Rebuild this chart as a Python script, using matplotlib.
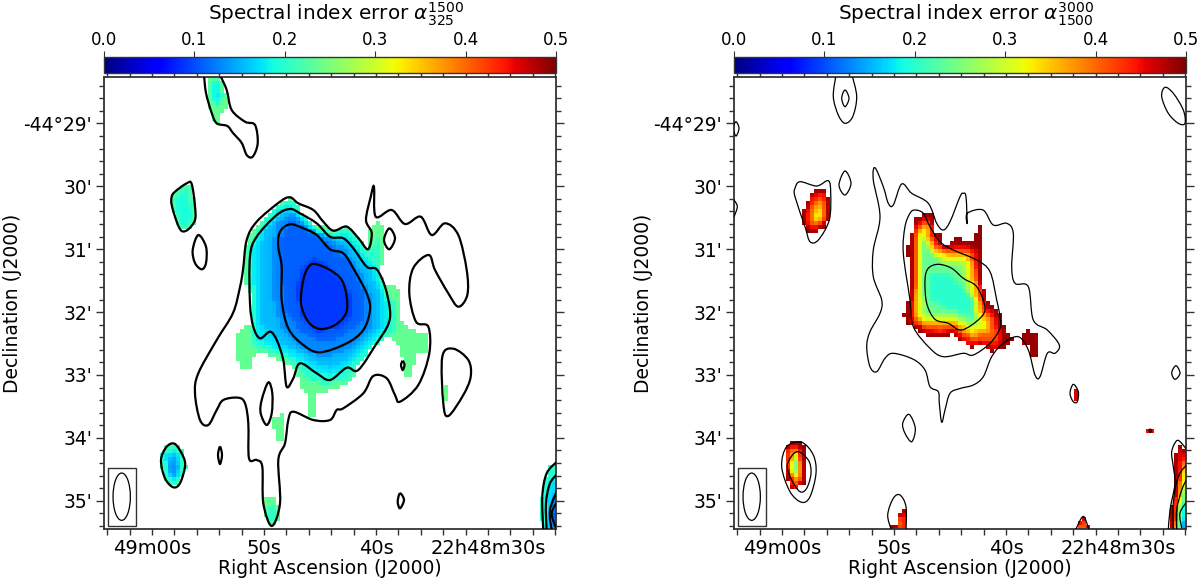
import numpy as np
import matplotlib
matplotlib.use("Agg")
import matplotlib.pyplot as plt
from matplotlib.path import Path
from matplotlib.patches import PathPatch, Rectangle, Ellipse

# everything below is in map pixels of the reference frame (1 map pixel = 1 px of picture)
# left panel covers x 104-556, right panel x 734-1186, both y 77-529

ra_ticks = [60, 50, 40, 30]
ra_labels = ["49m00s", "50s", "40s", "22h48m30s"]
dec_ticks = [29, 30, 31, 32, 33, 34, 35]
dec_labels = ["-44°29'", "30'", "31'", "32'", "33'", "34'", "35'"]
cbar_ticks = [0.0, 0.1, 0.2, 0.3, 0.4, 0.5]

# ---- left panel contours (alpha 325-1500)
left_tail = [(204,75),(206,93),(211.7,113),(216.7,123.3),(227.3,126),(233,133),(241.7,143),(246.7,155),(252.7,156.7),(257.7,143.3),(255,125),(245,121.7),(231.7,110),(226.7,90),(220,75)]
left_blob_a = [(171.7,196.7),(175,191.7),(186.7,183.3),(191.7,184),(195,206.7),(195,220),(188.3,229.3),(181.7,231),(176.7,221.7),(171.7,205)]
left_oval_a = [(198.3,235),(206,246.7),(206,263),(201.7,269.3),(195,263),(192.7,250)]
left_blob_b = [(161,460),(166.7,446.7),(175,444),(183.3,456.7),(185,466.7),(180,483.3),(173.3,487.3),(165,478.3)]
left_tiny_a = [(220,446.7),(222,455),(220,464),(218,455)]
left_hole = [(268.3,382.3),(272.3,393.3),(271.7,413.3),(266.7,425),(260.7,413.3),(261.7,400)]
left_outer = [(216.7,340),(233,313),(240,287),(243,270),(246.7,240),(256.7,221.7),(280,201.7),(290,197.3),(298.3,203.3),(313.3,210),(323.3,221.7),(333.3,230.7),(346.7,226.7),(358.3,238),(368,249.3),(371.7,233),(366,220),(370.7,197),(374,186.7),(375.7,216.7),(391.7,210),(405,224),(420.7,216.7),(431.7,235),(445,223.3),(458.3,235),(466.7,270),(467.3,295),(458.3,306.7),(448.3,293.3),(435,270),(428.7,255),(413.3,268),(409.3,293.3),(416,321.7),(428.3,326.7),(429.3,353.3),(418.3,385),(400,401.7),(395,395),(386.7,378.3),(373.3,376),(363.3,393.3),(343.3,408.3),(336.7,410),(330,420),(313.3,420),(293.3,411.7),(288.3,420),(285,443.3),(278.3,460),(280,503.3),(271.7,526),(263.3,503.3),(262.3,466.7),(256.7,460),(249,458.3),(248.3,423.3),(245,403.3),(238.3,397.7),(223.3,400),(216.7,410),(208.3,425),(200,420),(195,393.3),(198.3,373.3)]
left_second = [(290,209),(300,213.3),(316.7,223.3),(330,236.7),(343.3,238.3),(353.3,248.3),(366.7,266.7),(376.7,269.3),(385,286.7),(390,310),(388,325),(376.7,343.3),(358.3,370),(346.7,367.7),(330,380),(316.7,373.3),(300,363.3),(293.3,378.3),(286.7,386.7),(283.3,360),(276.7,340),(270,331.7),(260,338.3),(253.3,326.7),(250,303.3),(250,256.7),(256.7,236.7),(276.7,215)]
left_third = [(290,224.3),(303.3,228.3),(316.7,235),(330,249.3),(343.3,253.3),(353.3,268.3),(366.7,293.3),(370,310),(363.3,330),(346.7,343.3),(320,352.3),(303.3,345),(288.3,328.3),(281.7,300),(281.7,266.7),(278.3,246.7),(280,231.7)]
left_inner = [(315,264),(330,270),(341.7,280),(346.7,296.7),(346,313.3),(335,325),(320,329),(308.3,321.7),(301,303.3),(303.3,280),(308.3,267.3)]
left_oval_b = [(389.3,228.3),(395,238.3),(389.3,249.3),(384,240)]
left_oval_c = [(453.3,348.7),(468.3,360),(470.7,376.7),(463.3,395),(448.3,416),(443.3,403.3),(442.3,356.7)]
left_tiny_b = [(400,493.3),(404,500),(400,508.3),(397.7,501.7)]
left_tiny_c = [(402.7,361),(404.5,365),(402.7,370),(401,365)]
left_closed = [left_blob_a, left_oval_a, left_blob_b, left_tiny_a, left_hole, left_outer, left_second,
               left_third, left_inner, left_oval_b, left_oval_c, left_tiny_b, left_tiny_c]
left_open = [left_tail,
             [(543.3,531),(542.3,496.7),(546.7,473.3),(558,460.7)],
             [(546.7,531),(546,503.3),(550,483.3),(558,473.3)],
             [(551.7,531),(550,510),(558,488.3)],
             [(556,528),(551.7,513.3),(558,500)]]

# ---- left panel error map, nested regions (value, outline)
left_main = [
    (0.235, [(290,197),(300,206.7),(303.3,216.7),(316.7,226.7),(321.7,223.3),(330,228),(346.7,226.7),(358.3,236.7),(368,250),(370,228),(376.7,220),(383.3,225),(383.3,260),(380,270),(385,283),(396.7,286.7),(401.7,293.3),(401.7,320),(410,330),(426.7,333.3),(430,343.3),(426.7,351.7),(416,351.7),(415,363.3),(410,376.7),(406,377),(402.7,360),(398.3,353.3),(398,345),(393.3,338.3),(385,336),(378,343.3),(365,353),(358,363),(353.3,380),(346.7,385),(330,390),(316.7,395),(316.7,418.3),(310,418.3),(310,393.3),(300,388.3),(296.7,370),(280,360),(263.3,351.7),(251.7,358.3),(250,370),(243.3,370),(236.7,358.3),(236.7,333.3),(250,323.3),(251.7,296.7),(245,285),(244.3,270),(245,246.7),(251.7,230),(273.3,208.3)]),
    (0.20, [(248,250),(258,228),(275,208),(290,199),(301,210),(316,228),(333,232),(348,229),(360,240),(368,252),(374,245),(376,232),(381,240),(379,268),(384,290),(394,300),(396,330),(388,335),(375,345),(360,362),(350,378),(330,384),(312,382),(300,372),(285,357),(262,348),(250,345),(252,320),(253,296),(247,280)]),
    (0.175, [(252,250),(262,228),(278,211),(290,203),(300,215),(316,232),(335,236),(347,234),(358,246),(370,262),(378,272),(386,300),(388,325),(375,340),(360,356),(345,372),(330,376),(312,370),(296,358),(275,348),(258,340),(256,320),(256,296),(252,275)]),
    (0.155, [(258,250),(268,226),(285,208),(298,218),(318,236),(345,240),(358,255),(370,270),(380,295),(382,322),(370,338),(350,358),(330,368),(310,360),(295,350),(275,340),(262,325),(260,300)]),
    (0.13, [(272,250),(276,224),(292,213),(310,228),(345,247),(362,275),(374,300),(372,325),(350,348),(325,358),(300,348),(282,330),(274,300)]),
    (0.11, [(280,240),(290,220),(305,228),(330,245),(350,262),(365,295),(362,322),(340,338),(320,342),(300,330),(285,310),(280,270)]),
    (0.09, [(300,270),(315,258),(335,272),(350,295),(350,315),(335,330),(315,332),(300,315),(296,290)]),
]
left_top = [
    (0.235, [(207,76),(220,76),(226,92),(226,108),(222,112),(220,122),(215,125),(211,115),(207,95)]),
    (0.18, [(212,80),(218,82),(222,95),(218,105),(214,100),(212,90)]),
]
left_side = [
    (0.22, [(171,197),(175,192),(187,183),(192,186),(195,205),(195,222),(187,230),(180,231),(176,222),(172,205)]),
    (0.19, [(176,200),(186,190),(190,205),(190,222),(183,226),(178,212)]),
]
left_low = [
    (0.21, [(160,458),(165,446),(175,444),(183,452),(186,467),(180,484),(173,487),(165,478),(161,465)]),
    (0.165, [(165,455),(175,450),(181,460),(182,470),(175,482),(168,475)]),
    (0.135, [(168,460),(176,457),(179,468),(174,478),(170,472)]),
]
left_foot = [
    (0.235, [(263,498),(270,496),(277,500),(280,520),(272,527),(265,515)]),
    (0.2, [(268,502),(275,506),(275,520),(270,520)]),
]
left_bits = [
    (0.235, [(273,419),(284,414),(284,440),(275,440)]),
    (0.24, [(443,386),(449,388),(449,400),(445,400)]),
]
left_corner = [
    (0.2, [(541,517),(542,497),(548,468),(557,461),(557,530),(546,530)]),
    (0.17, [(546,510),(550,482),(557,473),(557,530),(548,530)]),
    (0.12, [(551,510),(557,488),(557,530),(552,530)]),
    (0.085, [(553,515),(557,500),(557,530)]),
]
left_regions = left_main + left_top + left_side + left_low + left_foot + left_bits + left_corner

# ---- right panel contours (alpha 1500-3000)
right_top_out = [(836,75),(833.3,96.7),(838.3,115),(845,123.3),(852.7,116.7),(856.7,96.7),(852,75)]
right_top_in = [(845,90),(849,98.3),(845,106.7),(841.7,98.3)]
right_edge_a = [(736,121.7),(739,128.3),(736,136),(733.3,128)]
right_edge_b = [(732,198),(734,200),(737.3,206.7),(734,216.7),(732,220)]
right_side_out = [(795,188.3),(800,181.7),(816.7,186),(828.3,180.7),(830.7,193.3),(829.3,220),(818.3,240),(810,241.7),(805,226.7),(795,196.7)]
right_oval_a = [(845,171),(851,183.3),(845,195),(839,185)]
right_outer = [(875,167.7),(883.3,186.7),(888.3,203.3),(893.3,205),(901.7,184),(911.7,193.3),(928.3,203.3),(936.7,223.3),(943.3,230),(950,221.7),(960,196.7),(963.3,193.3),(966,196.7),(967.3,223.3),(967.3,213.3),(983,210),(993.3,225),(1006.7,223.3),(1013.3,233.3),(1011.7,266.7),(1015,283.3),(1028.3,286.7),(1033.3,320),(1047.3,330),(1059.3,345),(1055,353.3),(1047.3,353.3),(1040,376.7),(1035,375),(1028.3,350),(1018.3,336.7),(1003.3,343.3),(991.7,356.7),(983.3,376.7),(973.3,385),(960,388.5),(950,393.3),(945,410),(941.7,422.3),(939.3,403.3),(938.3,391.7),(930,386.7),(925,370),(913.3,359.3),(893.3,353.3),(885,358.3),(876.7,371.7),(870,366.7),(866.7,346.7),(870,331.7),(880,313.3),(881.7,300),(873.3,276.7),(873.3,250),(880,216.7),(873.3,180)]
right_second = [(915,210),(923.3,213.3),(930,226.7),(940,241.7),(953.3,250),(976.7,260),(990,271.7),(996.7,300),(1000,316.7),(1000,328.3),(990,343.3),(973.3,355),(963.3,353.3),(943.3,356.7),(930,348.3),(913.3,326.7),(910,300),(903.3,253.3),(905,226.7),(910,213.3)]
right_inner = [(938.3,264.3),(951.7,268.3),(963.3,278.3),(976.7,286.7),(985,306.7),(980,318.3),(961.7,330),(948.3,323.3),(935,319.3),(926.7,303.3),(925,280),(928.3,268.3)]
right_ellipse = [(1165,87.3),(1173.3,93.3),(1183.3,110),(1185,123.3),(1178.3,123.3),(1168.3,113.3),(1161.7,96.7)]
right_oval_b = [(909,414.3),(915.3,428.3),(911.7,441.7),(905,433.3),(902.7,423.3)]
right_low_out = [(801.7,442.3),(813.3,455),(816,473.3),(810,496.7),(801.7,502.3),(790,491.7),(781.7,466.7),(786.7,446.7)]
right_low_in = [(796.7,451.7),(808.3,460),(811,473.3),(806.7,488.3),(800,491.7),(791.7,480),(787.3,465)]
right_oval_c = [(1176,365.7),(1180,373.3),(1175,379.3),(1171.7,372.7)]
right_oval_d = [(1073.3,384.3),(1078.3,391.7),(1077.3,401.7),(1073.3,401.7),(1070,393.3)]
right_dot = [(1150.3,429),(1151.5,430.7),(1150.3,432.5),(1149,430.7)]
right_closed = [right_top_in, right_edge_a, right_side_out, right_oval_a, right_outer, right_second, right_inner,
                right_ellipse, right_oval_b, right_low_out, right_low_in, right_oval_c, right_oval_d, right_dot]
right_open = [right_top_out, right_edge_b,
              [(891.7,531),(887.7,515),(893.3,498.3),(900,495),(906,506.7),(906,531)],
              [(1075,531),(1081.7,517.7),(1085,518.3),(1089.3,531)],
              [(1168.3,531),(1170,510),(1175,483.3),(1173.3,466.7),(1171.7,451.7),(1176.7,440.7),(1181.7,443.3),(1188,451.7)],
              [(1173.3,531),(1173.3,503.3),(1178.3,476.7),(1188,463.3)],
              [(1176.7,531),(1176.7,510),(1181.7,490),(1188,476.7)],
              [(1181.7,528),(1180,513),(1188,500)]]

# ---- right panel error map
right_main = [
    (0.49, [(921.7,214),(931.7,213.3),(935,231.7),(940,233),(940,243),(951.7,243.3),(955,238.3),(961.7,238.3),(963.3,242.7),(975,241.7),(976.7,228.3),(981.7,224),(984,231.7),(987.3,233.3),(983.3,235),(980,251.7),(980,276.7),(984,281.7),(983,290),(987.3,290.7),(987.3,301.7),(991.7,305),(999.3,310),(1001.7,322.7),(1006,323.3),(1008.3,336.7),(1012.7,338.3),(1001.7,350),(991.7,351.7),(985,345),(970,348.3),(965,341.7),(958.3,340),(955,333.3),(943.3,336.7),(928.3,336.7),(921.7,333.3),(915,326.7),(906.7,325),(903.3,315),(907.3,313.3),(907.3,301.7),(910.7,300),(911.7,273.3),(911,256.7),(907.3,255),(907.3,246.7),(911,245),(910.7,231.7),(915,230.7),(915,220),(918.3,216.7)]),
    (0.45, [(922,218),(931,217),(933,234),(937,240),(940,247),(952,247),(958,243),(970,246),(977,250),(976,262),(979,280),(982,295),(985,305),(992,310),(998,320),(1001,332),(1004,340),(998,347),(990,347),(982,342),(970,345),(962,338),(955,330),(945,333),(930,333),(922,328),(915,322),(909,318),(912,300),(914,280),(913,250),(914,232),(917,222)]),
    (0.41, [(922,221),(930,221),(932,236),(937,245),(952,250),(962,247),(973,253),(976,270),(980,290),(984,305),(992,318),(997,330),(998,342),(985,339),(972,341),(960,333),(952,327),(940,331),(925,330),(914,322),(912,300),(915,280),(914,250),(915,233)]),
    (0.36, [(923,225),(928,225),(930,240),(936,249),(950,253),(962,251),(971,256),(974,272),(978,292),(982,308),(990,322),(992,333),(982,334),(972,336),(960,329),(952,323),(940,326),(926,326),(916,318),(915,300),(917,275),(916,250),(918,233)]),
    (0.31, [(924,228),(928,242),(935,252),(950,257),(962,255),(968,260),(971,275),(975,295),(979,310),(986,325),(982,330),(972,331),(962,324),(952,320),(938,322),(926,322),(918,314),(918,295),(919,270),(919,250),(920,235)]),
    (0.27, [(925,232),(929,246),(935,256),(948,261),(960,259),(966,265),(968,280),(972,300),(976,315),(981,326),(972,326),(962,320),(952,316),(936,318),(925,317),(921,306),(921,280),(921,250)]),
    (0.235, [(924,240),(930,252),(940,262),(955,266),(963,272),(966,290),(970,310),(975,322),(965,318),(955,312),(935,313),(926,311),(924,295),(924,265)]),
    (0.2, [(932,272),(950,275),(962,285),(973,300),(975,318),(962,312),(945,307),(932,300)]),
]
right_tail = [(0.49, [(1023,336),(1029,330),(1036,334),(1036,356),(1029,356),(1028,346),(1023,345)])]
right_side = [
    (0.49, [(815,190.7),(826,190.7),(829.3,200),(829.3,216.7),(825,226.7),(815,231.7),(808,234),(804,225),(804,210),(808,200)]),
    (0.44, [(817,194),(825,194),(828,205),(827,217),(822,226),(812,230),(807,224),(807,210),(811,200)]),
    (0.4, [(818,198),(823,198),(826,208),(824,220),(815,227),(810,222),(810,210)]),
    (0.36, [(819,201),(823,205),(823,218),(815,223),(812,214)]),
    (0.32, [(818,207),(821,207),(821,217),(816,220),(815,214)]),
]
right_low = [
    (0.49, [(790,440.7),(800,440.7),(804,445),(804,458),(807.3,460),(807.3,469.3),(804,470),(804,483.3),(798.3,488.3),(795,491.7),(790,485),(786,478.3),(786,448.3)]),
    (0.44, [(791,444),(799,444),(802,460),(802,480),(796,487),(790,482),(788,470),(788,450)]),
    (0.38, [(792,447),(798,448),(800,460),(801,478),(795,484),(790,474),(790,455)]),
    (0.31, [(793,452),(798,453),(799,475),(795,480),(791,470)]),
    (0.23, [(794,458),(798,460),(798,472),(795,476),(793,470)]),
]
right_foot = [
    (0.49, [(892,526),(896,525),(897,516),(902,511),(905,506),(907,507),(907,530),(892,530)]),
    (0.44, [(898,518),(905,510),(906,530),(896,530)]),
    (0.4, [(897,522),(902,514),(904,530),(897,530)]),
]
right_bits = [
    (0.46, [(1075.5,388),(1079.5,388),(1079.5,400),(1075.5,400)]),
    (0.45, [(1148,428),(1152,428),(1152,432),(1148,432)]),
]
right_bottom = [
    (0.47, [(1075,530),(1079,520),(1085,518),(1088,524),(1090,530)]),
    (0.4, [(1079,530),(1081,522),(1085,522),(1087,530)]),
]
right_corner = [
    (0.49, [(1178,445),(1186,449),(1186,530),(1170,530),(1171,507),(1174,505),(1176,480),(1174,455),(1178,454)]),
    (0.45, [(1179,450),(1186,452),(1186,530),(1173,530),(1175,508),(1178,480),(1178,460)]),
    (0.38, [(1181,460),(1186,462),(1186,530),(1175,530),(1178,505),(1180,480)]),
    (0.31, [(1183,470),(1186,470),(1186,530),(1177,530),(1179,505),(1182,485)]),
    (0.24, [(1186,480),(1186,530),(1178,530),(1180,505)]),
    (0.18, [(1186,490),(1186,530),(1180,530),(1182,510)]),
    (0.13, [(1186,505),(1186,530),(1183,530)]),
]
right_regions = right_main + right_tail + right_side + right_low + right_foot + right_bits + right_bottom + right_corner

CELL = 4.0
FRAME = "#333333"


def bezier_path(pts, closed):
    # line through the read points, curved with the library's own cubic segments
    p = np.array(pts, dtype=float)
    n = len(p)
    verts = [p[0]]
    codes = [Path.MOVETO]
    for i in range(n if closed else n - 1):
        if closed:
            a, b, c, d = p[(i - 1) % n], p[i], p[(i + 1) % n], p[(i + 2) % n]
        else:
            a, b, c, d = p[max(i - 1, 0)], p[i], p[i + 1], p[min(i + 2, n - 1)]
        verts += [b + (c - a) / 6, c - (d - b) / 6, c]
        codes += [Path.CURVE4] * 3
    return Path(verts, codes)


def grid_map(regions, x0):
    xs = x0 + CELL * (np.arange(113) + 0.5)
    ys = 77 + CELL * (np.arange(113) + 0.5)
    gx, gy = np.meshgrid(xs, ys)
    cells = np.column_stack([gx.ravel(), gy.ravel()])
    z = np.full(gx.size, np.nan)
    for value, outline in regions:
        z[Path(outline).contains_points(cells)] = value
    z = z.reshape(gx.shape)
    # soften the steps between read levels, only inside the map
    pad = np.pad(z, 1, constant_values=np.nan)
    stack = np.stack([pad[1:-1, 1:-1]] * 4 + [pad[:-2, 1:-1], pad[2:, 1:-1], pad[1:-1, :-2], pad[1:-1, 2:]])
    out = np.nanmean(stack[:, ~np.isnan(z)], axis=0)
    z[~np.isnan(z)] = out
    return z


fig = plt.figure(figsize=(12, 5.79), dpi=100)

panels = [(104, left_regions, left_closed, left_open, r"Spectral index error $\alpha^{1500}_{325}$", 1.6),
          (734, right_regions, right_closed, right_open, r"Spectral index error $\alpha^{3000}_{1500}$", 0.9)]

for x0, regions, closed, opened, title, lw in panels:
    ax = fig.add_axes([x0 / 1200, 1 - 529 / 579, 452 / 1200, 452 / 579])
    im = ax.imshow(grid_map(regions, x0), cmap="jet", vmin=0, vmax=0.5, interpolation="nearest",
                   extent=[x0, x0 + 452, 529, 77], aspect="auto", zorder=1)
    for pts in closed:
        ax.add_patch(PathPatch(bezier_path(pts, True), fill=False, ec="black", lw=lw, zorder=3))
    for pts in opened:
        ax.add_patch(PathPatch(bezier_path(pts, False), fill=False, ec="black", lw=lw, zorder=3))

    # beam
    ax.add_patch(Rectangle((x0 + 4, 467.7), 27.7, 58.3, fill=False, ec=FRAME, lw=1.0, zorder=4))
    ax.add_patch(Ellipse((x0 + 17.7, 496.7), 17.3, 47.3, fill=False, ec="black", lw=0.9, zorder=4))

    ax.set_xlim(x0, x0 + 452)
    ax.set_ylim(529, 77)
    # sky coordinates to map pixels
    ra_x = lambda ra: x0 + 48 + (60 - np.asarray(ra, dtype=float)) * 11.2
    dec_y = lambda d: 123.4 + (np.asarray(d, dtype=float) - 29) * 62.9
    ax.set_xticks(ra_x(ra_ticks))
    ax.set_xticklabels(ra_labels)
    ax.set_yticks(dec_y(dec_ticks))
    ax.set_yticklabels(dec_labels)
    ax.set_xticks(ra_x(np.arange(24, 65, 2)), minor=True)
    ax.set_yticks(dec_y(np.arange(28.4, 35.5, 0.2)), minor=True)
    ax.tick_params(which="major", direction="out", length=6, width=1.0, color=FRAME, top=True, right=True)
    ax.tick_params(which="minor", direction="out", length=3.5, width=1.0, color=FRAME, top=True, right=True)
    ax.tick_params(axis="x", which="both", length=4.5)
    ax.tick_params(axis="x", which="major", labelsize=14, pad=3)
    ax.tick_params(axis="y", which="major", labelsize=13.5, pad=2.5)
    for s in ax.spines.values():
        s.set_linewidth(1.3)
        s.set_color(FRAME)

    cax = fig.add_axes([x0 / 1200, 1 - 73 / 579, 452 / 1200, 16 / 579], zorder=5)
    cb = fig.colorbar(im, cax=cax, orientation="horizontal", ticks=cbar_ticks)
    cax.xaxis.set_ticks_position("top")
    cax.tick_params(length=4, width=0.8, labelsize=12, pad=2, color=FRAME)
    cb.outline.set_linewidth(1.0)
    cb.outline.set_edgecolor(FRAME)

    fig.text((x0 + 232) / 1200, 1 - 14 / 579, title, fontsize=14.4, ha="center", va="center")
    fig.text((x0 + 226) / 1200, 1 - 568 / 579, "Right Ascension (J2000)", fontsize=13.5, ha="center", va="center")
    fig.text((x0 - 91) / 1200, 1 - 303 / 579, "Declination (J2000)", fontsize=13.5, rotation=90, ha="center", va="center")

fig.savefig("out.png", dpi=100)
